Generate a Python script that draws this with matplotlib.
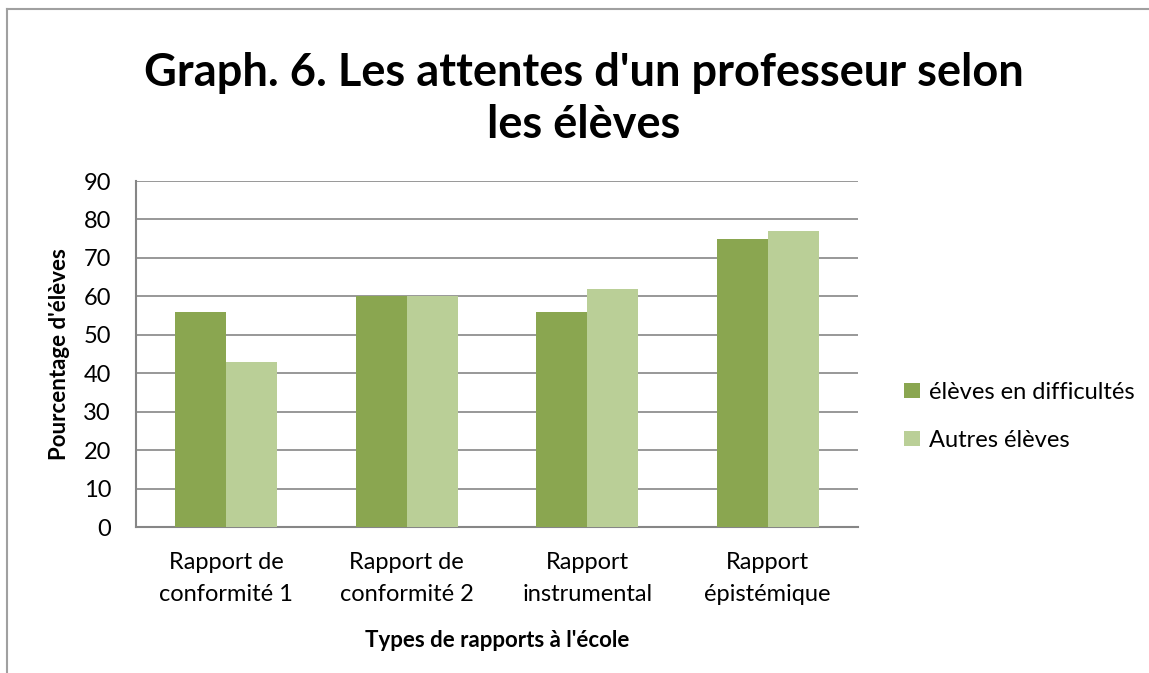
import matplotlib.pyplot as plt
import numpy as np

categories = ["Rapport de\nconformité 1", "Rapport de\nconformité 2", "Rapport\ninstrumental", "Rapport\népistémique"]
difficultes = [56, 60, 56, 75]
autres = [43, 60, 62, 77]
series_labels = ["élèves en difficultés", "Autres élèves"]

plt.rcParams['font.family'] = ['Lato', 'DejaVu Sans']

fig = plt.figure(figsize=(11.49, 6.73), dpi=100)
ax = fig.add_axes([0.1184, 0.2169, 0.6283, 0.5141])

x = np.arange(len(categories))
w = 0.283
ax.bar(x - w / 2, difficultes, w, color='#8AA650', label=series_labels[0], zorder=3)
ax.bar(x + w / 2, autres, w, color='#BACF97', label=series_labels[1], zorder=3)

ax.set_xlim(-0.5, len(categories) - 0.5)
ax.set_ylim(0, 90)
ax.set_yticks(range(0, 91, 10))
ax.yaxis.grid(True, color='#868686', linewidth=1.2, zorder=0)
ax.set_xticks(x)
ax.set_xticklabels(categories, fontsize=17, linespacing=1.65)
ax.tick_params(axis='both', length=0, labelsize=17, colors='black')
ax.tick_params(axis='y', pad=18)
ax.tick_params(axis='x', pad=18)

for s in ['top', 'right']:
    ax.spines[s].set_visible(False)
for s in ['left', 'bottom']:
    ax.spines[s].set_color('#868686')
    ax.spines[s].set_linewidth(1.5)

ax.set_ylabel("Pourcentage d'élèves", fontsize=16, fontweight='bold', labelpad=10)
ax.set_xlabel("Types de rapports à l'école", fontsize=16, fontweight='bold', labelpad=18)

fig.text(0.508, 0.853, "Graph. 6. Les attentes d'un professeur selon\nles élèves",
         ha='center', va='center', fontsize=32.5, fontweight='bold', linespacing=1.3)

ax.legend(loc='center left', bbox_to_anchor=(1.035, 0.32), frameon=False,
          fontsize=17, handlelength=0.65, handleheight=0.65, handletextpad=0.4,
          labelspacing=1.15)

# cadre gris du graphique
fig.add_artist(plt.Line2D([0.0061, 0.0061], [0.0, 0.9866], color='#A0A0A0', linewidth=1.5))
fig.add_artist(plt.Line2D([0.0061, 1.0], [0.9866, 0.9866], color='#A0A0A0', linewidth=1.5))

fig.savefig('out.png', dpi=100, facecolor='white')
